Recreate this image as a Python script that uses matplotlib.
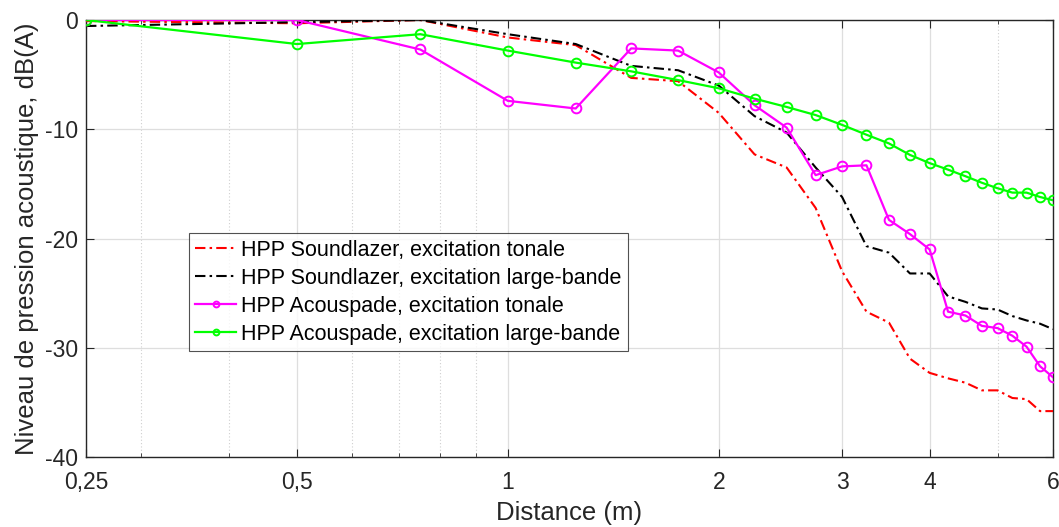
import matplotlib
matplotlib.use("Agg")
import matplotlib.pyplot as plt
from matplotlib.ticker import FixedLocator, FixedFormatter, NullFormatter

plt.rcParams['font.family'] = ['Liberation Sans', 'DejaVu Sans']

# Data
dist = [0.25, 0.5, 0.75, 1.0, 1.25, 1.5, 1.75, 2.0, 2.25, 2.5, 2.75, 3.0,
        3.25, 3.5, 3.75, 4.0, 4.25, 4.5, 4.75, 5.0, 5.25, 5.5, 5.75, 6.0]

sl_tonale = [-0.1, -0.3, 0.0, -1.6, -2.3, -5.3, -5.6, -8.5, -12.3, -13.5, -17.2, -23.0,
             -26.7, -27.7, -31.0, -32.3, -32.8, -33.2, -33.9, -33.9, -34.6, -34.7, -35.8, -35.8]
sl_large = [-0.55, -0.2, 0.0, -1.3, -2.2, -4.2, -4.6, -6.0, -8.8, -10.3, -13.5, -16.2,
            -20.7, -21.3, -23.2, -23.2, -25.3, -25.8, -26.4, -26.5, -27.1, -27.5, -27.8, -28.3]
ac_tonale = [0.0, 0.0, -2.7, -7.4, -8.1, -2.6, -2.8, -4.8, -7.8, -9.85, -14.2, -13.4,
             -13.3, -18.3, -19.6, -21.0, -26.7, -27.05, -28.0, -28.2, -28.9, -29.9, -31.7, -32.7]
ac_large = [0.0, -2.2, -1.3, -2.8, -3.9, -4.7, -5.5, -6.25, -7.2, -7.96, -8.7, -9.6,
            -10.5, -11.3, -12.35, -13.1, -13.7, -14.3, -14.9, -15.4, -15.8, -15.8, -16.2, -16.5]

labels = ["HPP Soundlazer, excitation tonale",
          "HPP Soundlazer, excitation large-bande",
          "HPP Acouspade, excitation tonale",
          "HPP Acouspade, excitation large-bande"]

xticks = [0.25, 0.5, 1, 2, 3, 4, 6]
xticklabels = ["0,25", "0,5", "1", "2", "3", "4", "6"]
xminor = [0.3, 0.4, 0.6, 0.7, 0.8, 0.9, 5]
yticks = [-40, -30, -20, -10, 0]
yticklabels = ["-40", "-30", "-20", "-10", "0"]

fig = plt.figure(figsize=(10.59, 5.27), dpi=100)
ax = fig.add_axes([86/1059, 1-457/527, (1053-86)/1059, (457-20)/527])

dashdot = (0, (5, 2, 1.2, 2))
ax.plot(dist, sl_tonale, color='#ff0000', lw=1.5, linestyle=dashdot, label=labels[0], zorder=3)
ax.plot(dist, sl_large, color='#000000', lw=1.5, linestyle=dashdot, label=labels[1], zorder=3)
ax.plot(dist, ac_tonale, color='#ff00ff', lw=1.6, marker='o', ms=7, mfc='none', mew=1.4,
        label=labels[2], zorder=4)
ax.plot(dist, ac_large, color='#00ff00', lw=1.6, marker='o', ms=7, mfc='none', mew=1.4,
        label=labels[3], zorder=5)

ax.set_xscale('log')
ax.set_xlim(0.25, 6)
ax.set_ylim(-40, 0)
ax.xaxis.set_major_locator(FixedLocator(xticks))
ax.xaxis.set_major_formatter(FixedFormatter(xticklabels))
ax.xaxis.set_minor_locator(FixedLocator(xminor))
ax.xaxis.set_minor_formatter(NullFormatter())
ax.yaxis.set_major_locator(FixedLocator(yticks))
ax.yaxis.set_major_formatter(FixedFormatter(yticklabels))

ax.grid(True, which='major', color='#dedede', lw=0.9, linestyle='-', zorder=0)
ax.grid(True, which='minor', axis='x', color='#cfcfcf', lw=0.8, linestyle=(0, (1, 2)), zorder=0)
ax.set_axisbelow(True)

for s in ax.spines.values():
    s.set_color('#262626')
    s.set_linewidth(1.0)
ax.tick_params(which='both', direction='in', top=True, right=True, colors='#262626',
               labelsize=16.5, labelcolor='#262626')
ax.tick_params(which='major', length=6, width=0.8)
ax.tick_params(which='minor', length=3, width=0.6)
ax.tick_params(axis='x', which='major', pad=10)
ax.tick_params(axis='y', which='major', pad=6)

ax.set_xlabel("Distance (m)", fontsize=18.5, color='#262626', labelpad=5)
ax.set_ylabel("Niveau de pression acoustique, dB(A)", fontsize=18.5, color='#262626', labelpad=4)

leg = ax.legend(loc='lower left', bbox_to_anchor=((189-86)/967, (457-351)/437),
                fontsize=15.5, frameon=True, fancybox=False, borderpad=0.3,
                handlelength=1.9, handletextpad=0.2, labelspacing=0.32,
                borderaxespad=0, markerscale=0.6)
leg.get_frame().set_edgecolor('#262626')
leg.get_frame().set_linewidth(0.8)

fig.savefig("out.png", dpi=100)
